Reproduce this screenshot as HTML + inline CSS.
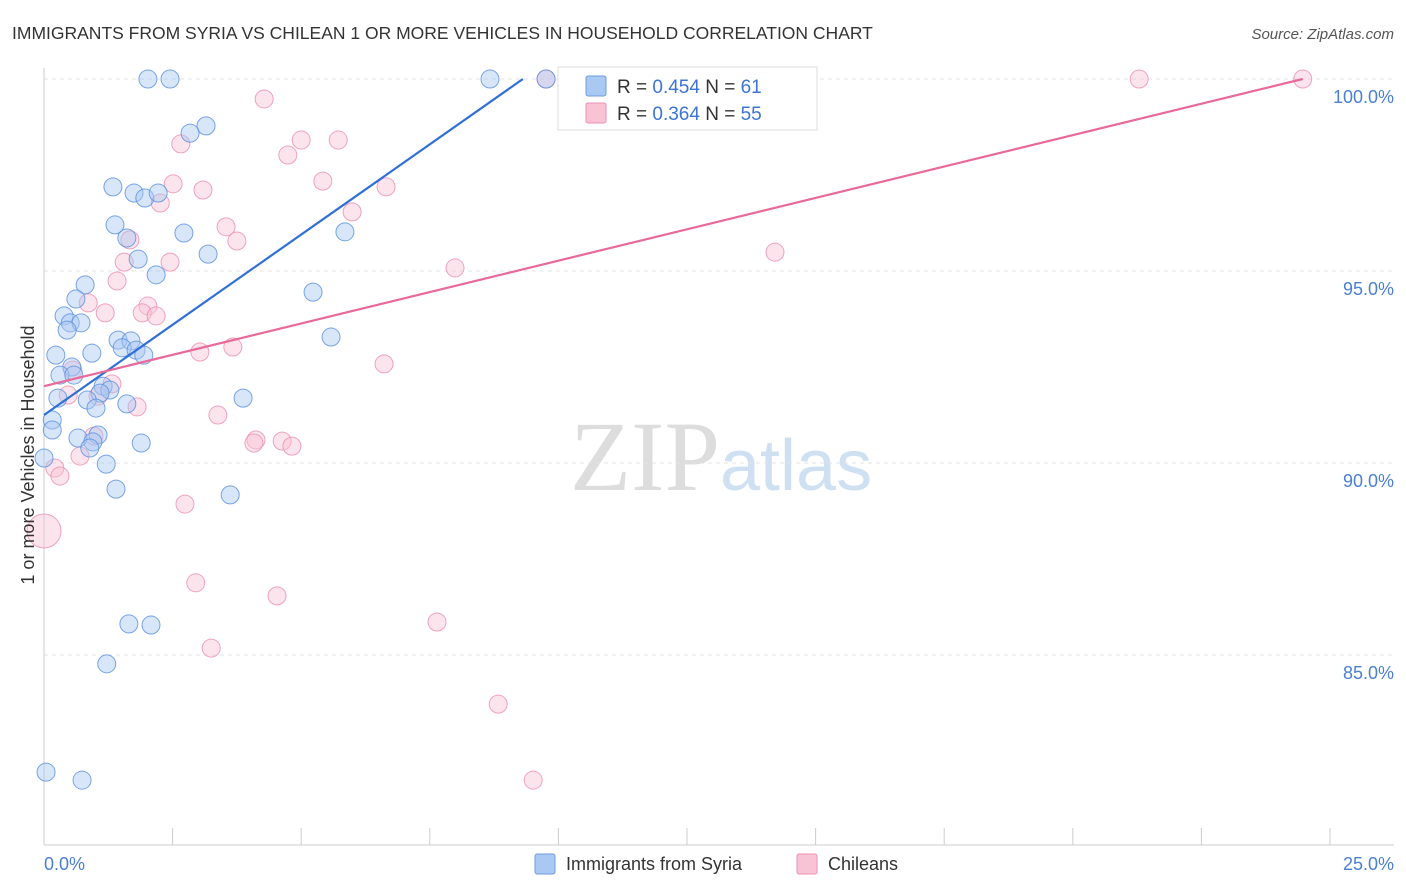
<!DOCTYPE html>
<html><head><meta charset="utf-8"><style>
body{margin:0;background:#fff;font-family:"Liberation Sans",sans-serif;}
svg{display:block}
</style></head><body>
<svg id="chart" width="1406" height="892">
<text x="12" y="39" font-size="17.5" fill="#333">IMMIGRANTS FROM SYRIA VS CHILEAN 1 OR MORE VEHICLES IN HOUSEHOLD CORRELATION CHART</text>
<text x="1394" y="39" font-size="15" fill="#555" font-style="italic" text-anchor="end">Source: ZipAtlas.com</text>
<text x="720" y="490" font-size="100" fill="#ddd" text-anchor="end" font-family="Liberation Serif,serif">ZIP</text>
<text x="720" y="490" font-size="72" fill="#cfe0f3">atlas</text>
<g id="grid"></g>
<g id="axes"></g>
<g id="pts"></g>
<text transform="translate(34,455) rotate(-90)" font-size="18" fill="#333" text-anchor="middle">1 or more Vehicles in Household</text>
<text x="44" y="870" font-size="18" fill="#4a7fd4">0.0%</text>
<text x="1394" y="870" font-size="18" fill="#4a7fd4" text-anchor="end">25.0%</text>
<g>
<rect x="558" y="67" width="259" height="63" fill="#fff" stroke="#ddd"/>
<rect x="586" y="76" width="20" height="20" fill="#a9c8f2" stroke="#6f9ee0" rx="2"/>
<rect x="586" y="103" width="20" height="20" fill="#f8c3d5" stroke="#eb8fb0" rx="2"/>
<text x="617" y="93" font-size="19" fill="#333">R = <tspan fill="#3c74d6">0.454</tspan>   N = <tspan fill="#3c74d6">61</tspan></text>
<text x="617" y="120" font-size="19" fill="#333">R = <tspan fill="#3c74d6">0.364</tspan>   N = <tspan fill="#3c74d6">55</tspan></text>
</g>
<g>
<rect x="535" y="854" width="20" height="20" fill="#a9c8f2" stroke="#6f9ee0" rx="2"/>
<text x="566" y="870" font-size="18" fill="#333">Immigrants from Syria</text>
<rect x="797" y="854" width="20" height="20" fill="#f8c3d5" stroke="#eb8fb0" rx="2"/>
<text x="828" y="870" font-size="18" fill="#333">Chileans</text>
</g>
</svg>
<script>
const yTicks=[100,95,90,85];
const yTickLabels=["100.0%","95.0%","90.0%","85.0%"];
const xTicks=[0,2.5,5,7.5,10,12.5,15,17.5,20,22.5,25];
const syriaX=[2.02,2.45,8.67,9.76,3.15,2.84,1.34,1.75,1.96,2.22,1.38,1.61,2.72,5.85,3.19,1.83,2.18,5.23,0.80,0.62,0.39,0.51,0.72,0.45,1.44,1.69,1.52,1.79,1.94,0.93,0.23,5.58,0.54,0.31,0.58,1.15,1.28,1.09,0.27,0.84,1.01,1.61,3.87,0.16,0.16,0.66,1.05,0.95,0.89,1.89,0,1.21,1.40,3.62,1.65,2.08,1.22,0.04,0.74];
const syriaY=[100,100,100,100,98.78,98.59,97.19,97.03,96.90,97.03,96.20,95.86,95.99,96.02,95.44,95.31,94.90,94.45,94.64,94.27,93.83,93.65,93.65,93.46,93.20,93.18,93.0,92.94,92.81,92.86,92.81,93.28,92.5,92.29,92.29,92.0,91.9,91.82,91.69,91.64,91.43,91.54,91.69,91.12,90.86,90.65,90.73,90.55,90.39,90.52,90.13,89.97,89.32,89.17,85.81,85.78,84.77,81.95,81.74];
const chileX=[9.76,13.10,14.07,21.29,24.47,4.28,5.0,2.66,5.72,4.74,5.42,2.51,3.09,6.65,2.26,5.99,3.54,1.67,3.75,14.21,1.56,2.45,7.99,1.42,0.86,2.02,1.19,1.91,2.18,3.67,3.03,6.61,0.56,1.32,0.47,1.05,1.81,3.38,4.12,4.08,4.63,4.82,0.97,0.70,0.21,0.31,2.74,0,2.95,4.53,7.64,3.25,8.83,9.51];
const chileY=[100,100,100,100,100,99.48,98.41,98.31,98.41,98.02,97.34,97.27,97.11,97.19,96.77,96.54,96.15,95.81,95.78,95.49,95.23,95.23,95.08,94.74,94.17,94.09,93.91,93.91,93.83,93.02,92.89,92.58,92.42,92.06,91.77,91.74,91.46,91.25,90.60,90.52,90.57,90.44,90.70,90.18,89.87,89.66,88.93,88.23,86.88,86.54,85.86,85.18,83.72,81.74];
const syriaLine=[[0,91.25],[9.31,100]];
const chileLine=[[0,92.0],[24.47,100]];
const X=v=>44+v*51.44, Y=v=>79+(100-v)*38.4;
const NS="http://www.w3.org/2000/svg";
function mk(t,a,p){const e=document.createElementNS(NS,t);for(const k in a)e.setAttribute(k,a[k]);p.appendChild(e);return e;}
const grid=document.getElementById('grid'),axes=document.getElementById('axes'),pts=document.getElementById('pts');
yTicks.forEach((t,i)=>{const l=mk('line',{x1:44,x2:1394,y1:Y(t),y2:Y(t),stroke:'#e3e3e3','stroke-dasharray':'4,4'},grid);


const tx=mk('text',{x:1394,y:Y(t)+24,'font-size':18,fill:'#4a7fd4','text-anchor':'end'},axes);tx.textContent=yTickLabels[i];

});
const ax=mk('line',{x1:44,x2:1394,y1:845,y2:845,stroke:'#ccc'},axes);


const ay=mk('line',{x1:44,x2:44,y1:68,y2:845,stroke:'#ccc'},axes);


xTicks.forEach(t=>{const l=mk('line',{x1:X(t),x2:X(t),y1:828,y2:845,stroke:'#ccc'},axes);

});
function series(xs,ys,fill,stroke,name){xs.forEach((x,i)=>{const r=(x===0&&name==='chilean-point'&&ys[i]<89)?17:9;
const c=mk('circle',{cx:X(x),cy:Y(ys[i]),r:r,fill:fill,'fill-opacity':0.45,stroke:stroke,'stroke-opacity':0.8,'stroke-width':1},pts);

});}
series(chileX,chileY,'#f8c3d5','#eb8fb0','chilean-point');
series(syriaX,syriaY,'#a9c8f2','#5a8ee0','syria-point');
const l1=mk('line',{x1:X(syriaLine[0][0]),y1:Y(syriaLine[0][1]),x2:X(syriaLine[1][0]),y2:Y(syriaLine[1][1]),stroke:'#2f6fd6','stroke-width':2.2},pts);


const l2=mk('line',{x1:X(chileLine[0][0]),y1:Y(chileLine[0][1]),x2:X(chileLine[1][0]),y2:Y(chileLine[1][1]),stroke:'#e8699a','stroke-width':2.2},pts);


</script>
</body></html>
